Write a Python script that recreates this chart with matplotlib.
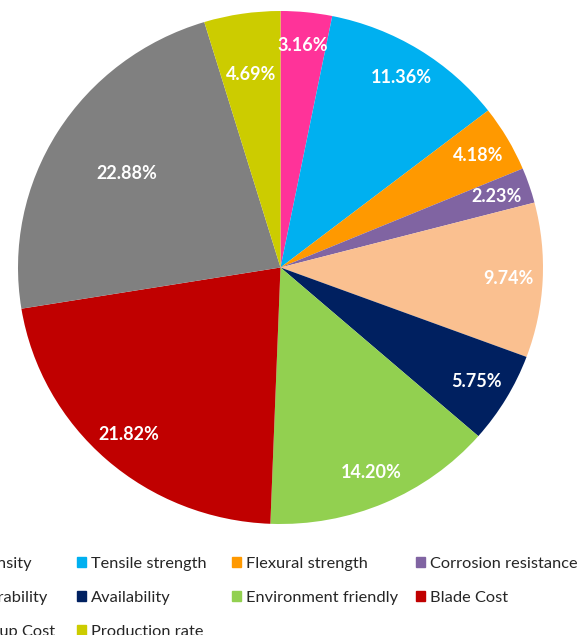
import matplotlib.pyplot as plt
from matplotlib.patches import Rectangle
import numpy as np

plt.rcParams['font.family'] = ['Lato', 'DejaVu Sans']

kategorie = ['Density', 'Tensile strength', 'Flexural strength', 'Corrosion resistance',
             'Durability', 'Availability', 'Environment friendly', 'Blade Cost',
             'Setup Cost', 'Production rate']
udzialy = [3.16, 11.36, 4.18, 2.23, 9.74, 5.75, 14.20, 21.82, 22.88, 4.69]
kolory = ['#FF3399', '#00B0F0', '#FF9900', '#8064A2', '#FAC090',
          '#002060', '#92D050', '#C00000', '#808080', '#CCCC00']

W, H = 588, 635
fig = plt.figure(figsize=(W / 100, H / 100), dpi=100)

# pie axes (slightly wider than tall, like the source)
ax = fig.add_axes([18 / W, (H - 524) / H, 525 / W, 513 / H])
wedges, teksty, procenty = ax.pie(udzialy, colors=kolory, startangle=90, counterclock=False,
                                   autopct='%.2f%%', pctdistance=0.87,
                                   textprops=dict(color='white', fontweight='bold', fontsize=13))
ax.set_aspect('auto')
ax.set_xlim(-1, 1)
ax.set_ylim(-1, 1)

# a couple of labels sit closer to the centre
przesuniecia = {'Setup Cost': 0.69, 'Production rate': 0.76}
for w, p, k in zip(wedges, procenty, kategorie):
    if k in przesuniecia:
        kat = np.deg2rad((w.theta1 + w.theta2) / 2)
        r = przesuniecia[k]
        p.set_position((r * np.cos(kat), r * np.sin(kat)))

# legend laid out like the Excel one (first column runs off the left edge)
kolumny_x = [-38, 77, 232, 416]
wiersze_y = [568, 602, 636]
for i, (k, c) in enumerate(zip(kategorie, kolory)):
    wiersz, kol = divmod(i, 4)
    x = kolumny_x[kol]
    y = wiersze_y[wiersz]
    fig.patches.append(Rectangle((x / W, 1 - (y - 1) / H), 9 / W, 10 / H, color=c,
                                 transform=fig.transFigure, figure=fig))
    fig.text((x + 14) / W, 1 - y / H, k, fontsize=11.8, color='#262626', va='baseline', ha='left')

fig.savefig('out.png', dpi=100)
